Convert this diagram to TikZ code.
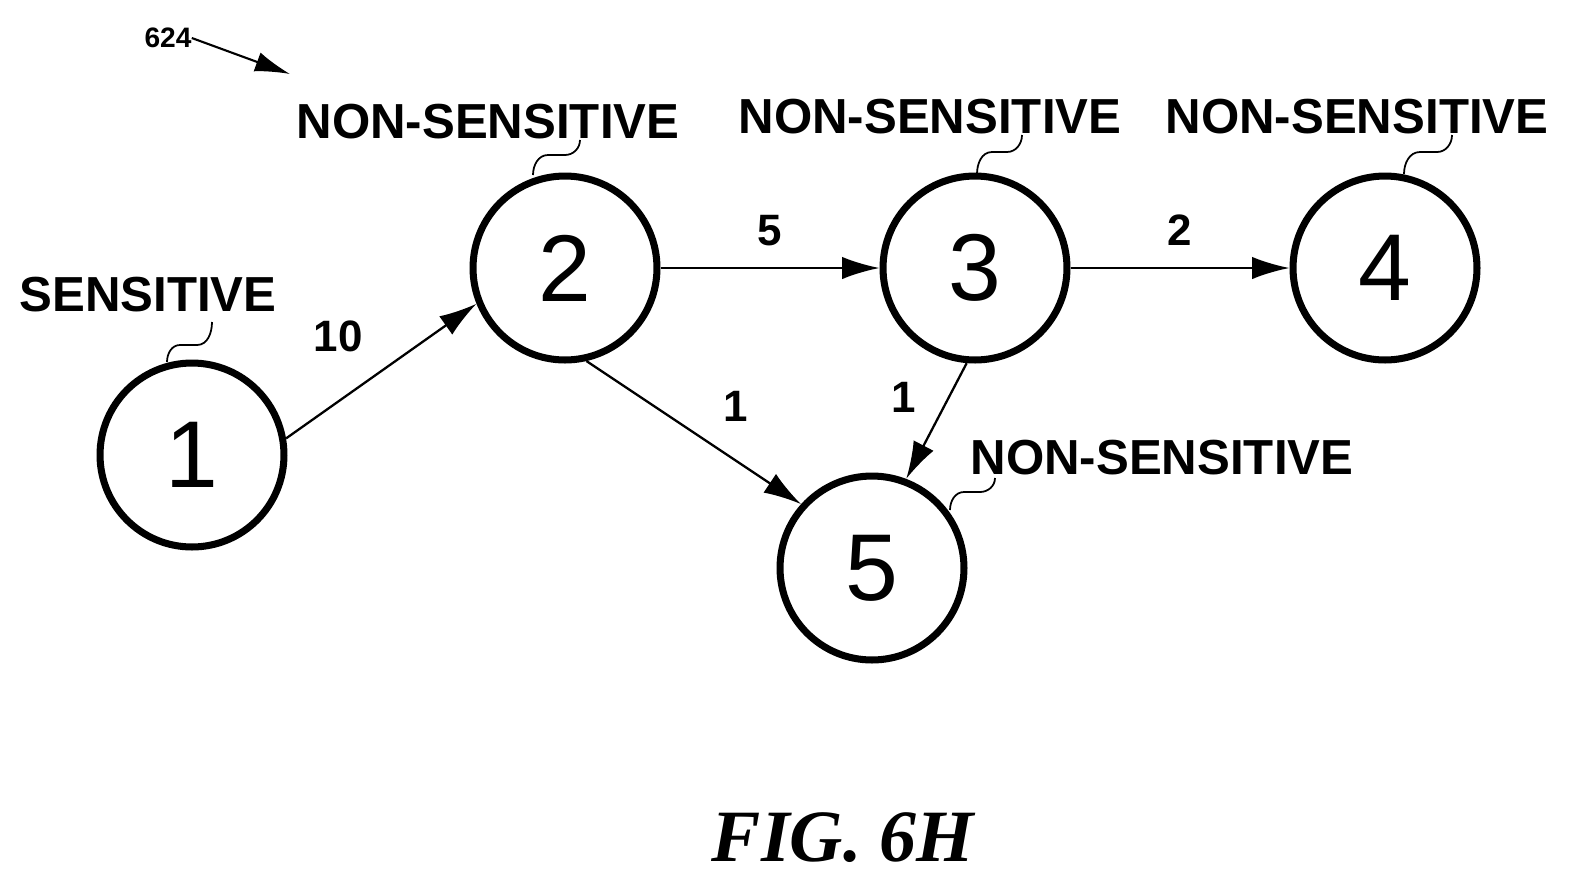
\documentclass[tikz,border=0pt]{standalone}
\usepackage{fontspec}
\setmainfont{Liberation Sans}
\newfontfamily\figfont{Liberation Serif}
\usetikzlibrary{arrows.meta}
\begin{document}
\begin{tikzpicture}[x=0.02cm,y=-0.02cm,
  st/.style={circle,draw,line width=4pt,minimum size=3.68cm,inner sep=0pt,font=\fontsize{54}{54}\selectfont},
  lab/.style={font=\bfseries\fontsize{28}{28}\selectfont,inner sep=0pt},
  wl/.style={font=\bfseries\fontsize{25}{25}\selectfont,inner sep=0pt},
  arr/.style={line width=1.3pt,-{Latex[length=0.75cm,width=0.45cm]}},
  sq/.style={line width=1pt}]
\useasboundingbox (0,0) rectangle (1582,890);
\node[st] (n1) at (192,455) {1};
\node[st] (n2) at (565,268) {2};
\node[st] (n3) at (975,268) {3};
\node[st] (n4) at (1385,268) {4};
\node[st] (n5) at (872,568) {5};
\node[lab] (l1) at (148,295) {SENSITIVE};
\node[lab] (l2) at (488,122) {NON-SENSITIVE};
\node[lab] (l3) at (930,117) {NON-SENSITIVE};
\node[lab] (l4) at (1357,117) {NON-SENSITIVE};
\node[lab] (l5) at (1162,458) {NON-SENSITIVE};
\draw[arr] (n1.10) -- node[wl,pos=0.5,above left=10pt] {10} (n2.202);
\draw[arr] (n2) -- node[wl,above=12pt] {5} (n3);
\draw[arr] (n3) -- node[wl,above=12pt] {2} (n4);
\draw[arr] (n2.283) -- node[wl,pos=0.55,above right=10pt] {1} (n5.138);
\draw[arr] (n3.265) -- node[wl,pos=0.3,left=18pt] {1} (n5.69);
\draw[sq] (212,322) to[out=-90,in=0] (197,345) -- (180,345) to[out=180,in=90] (167,362);
\draw[sq] (580,140) to[out=-90,in=0] (565,155) -- (548,155) to[out=180,in=90] (533,175);
\draw[sq] (1022,135) to[out=-90,in=0] (1007,152) -- (992,152) to[out=180,in=90] (977,174);
\draw[sq] (1452,135) to[out=-90,in=0] (1437,152) -- (1420,152) to[out=180,in=90] (1404,174);
\draw[sq] (995,478) to[out=-90,in=0] (980,492) -- (964,492) to[out=180,in=90] (950,510);
\node[font=\bfseries\fontsize{16}{16}\selectfont,inner sep=0pt] (t624) at (168,38) {624};
\coordinate (a624) at (290,74);
\draw[line width=1.2pt,-{Latex[length=0.7cm,width=0.4cm]}] (t624.east) -- (a624);
\node[font=\figfont\bfseries\itshape\fontsize{42}{42}\selectfont] (fig) at (843,838) {FIG. 6H};
\end{tikzpicture}
\end{document}
